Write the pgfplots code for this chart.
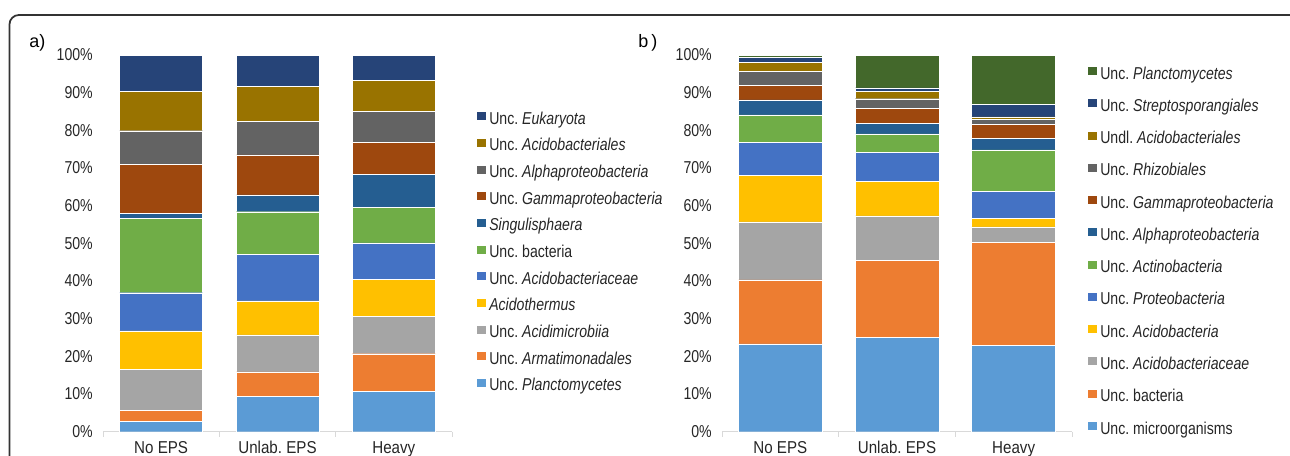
\documentclass[border=0pt]{standalone}
\usepackage{pgfplots}
\pgfplotsset{compat=1.18}
\usepackage{pgfplotstable}
\usepackage{fontspec}
\setmainfont{Liberation Sans}[FakeStretch=0.82]
\newfontfamily\panelfont{Liberation Sans}
\newfontfamily\catfont{Liberation Sans}[FakeStretch=0.88]
\frenchspacing

\definecolor{cBlueL}{HTML}{5B9BD5}
\definecolor{cOrange}{HTML}{ED7D31}
\definecolor{cGray}{HTML}{A5A5A5}
\definecolor{cGold}{HTML}{FFC000}
\definecolor{cBlue}{HTML}{4472C4}
\definecolor{cGreen}{HTML}{70AD47}
\definecolor{cBlueD}{HTML}{255E91}
\definecolor{cBrown}{HTML}{9E480E}
\definecolor{cGrayD}{HTML}{636363}
\definecolor{cOlive}{HTML}{997300}
\definecolor{cNavy}{HTML}{264478}
\definecolor{cGreenD}{HTML}{43682B}
\definecolor{axgray}{HTML}{D9D9D9}

% relative abundance (%) per treatment, bottom segment first
\pgfplotstableread{
x s1 s2 s3 s4 s5 s6 s7 s8 s9 s10 s11
0 2.8 2.9 10.8 10.3 10.1 19.7 1.4 12.9 9.0 10.5 9.6
1 9.3 6.6 9.8 9.0 12.4 11.3 4.5 10.6 8.9 9.3 8.3
2 10.7 10.0 10.0 9.7 9.7 9.4 8.9 8.5 8.1 8.3 6.7
}\taxaA

\pgfplotstableread{
x s1 s2 s3 s4 s5 s6 s7 s8 s9 s10 s11 s12
0 23.3 17.0 15.4 12.4 8.8 7.2 4.0 3.9 3.7 2.3 1.4 0.6
1 25.0 20.5 11.8 9.2 7.7 4.9 2.8 3.9 2.6 2.0 0.9 8.7
2 23.0 27.2 4.2 2.3 7.1 11.0 3.0 3.8 1.3 0.7 3.3 13.1
}\taxaB

\pgfplotsset{
  sq/.style={draw=white, line width=0.3pt,
    legend image code/.code={\fill[##1, draw=none] (0pt,0pt) rectangle (6.5pt,6pt);}},
  stackaxis/.style={
    scale only axis,
    height=282.5pt,
    ybar stacked,
    ymin=0, ymax=100, xmin=-0.5, xmax=2.5,
    axis x line*=bottom, axis y line*=left,
    x axis line style={draw=axgray, line width=0.75pt},
    y axis line style={draw=none},
    ytick={0,10,...,100},
    yticklabels={0\%,10\%,20\%,30\%,40\%,50\%,60\%,70\%,80\%,90\%,100\%},
    xtick={0,1,2},
    xticklabels={No EPS,Unlab. EPS,Heavy},
    minor xtick={-0.5,0.5,1.5,2.5},
    major tick length=0pt,
    minor tick length=3.75pt,
    tick align=outside,
    minor x tick style={draw=axgray, line width=0.75pt},
    major tick style={draw=none},
    tick label style={font=\fontsize{12.9}{14}\selectfont, text=black!85},
    yticklabel style={anchor=east, inner sep=0pt, xshift=-7.5pt},
    xticklabel style={anchor=north, inner sep=0pt, yshift=-6.75pt,
      font=\catfont\fontsize{12.9}{14}\selectfont, text height=9.2pt},
    reverse legend,
    legend cell align=left,
    legend style={draw=none, fill=none, inner sep=0pt, column sep=2.5pt,
      font=\fontsize{12.9}{14}\selectfont,
      nodes={inner sep=0pt, text height=9pt, text depth=3pt, text=black!85}},
    clip=false,
  },
}

\begin{document}
\begin{tikzpicture}
\useasboundingbox (0pt,0pt) rectangle (967.5pt,341.25pt);
\clip (0pt,0pt) rectangle (967.5pt,341.25pt);

% outer frame
\draw[line width=1.3pt, draw=black!80, rounded corners=7pt]
  (7.125pt,-22.5pt) -- (7.125pt,330pt) -- (975pt,330pt);

\node[anchor=base west, inner sep=0pt, font=\panelfont\fontsize{13.5}{15}\selectfont] at (21.75pt,306pt) {a)};
\node[anchor=base west, inner sep=0pt, font=\panelfont\fontsize{13.5}{15}\selectfont] at (478.5pt,306pt) {b\,)};

% panel a
\begin{axis}[stackaxis,
  at={(77.25pt,17.475pt)}, anchor=south west,
  width=261.75pt, bar width=62.25pt,
  legend style={at={(1.0716,0.849)}, anchor=north west, row sep=8pt},
]
\addplot[fill=cBlueL, sq] table[x=x, y=s1] {\taxaA};
\addplot[fill=cOrange, sq] table[x=x, y=s2] {\taxaA};
\addplot[fill=cGray, sq] table[x=x, y=s3] {\taxaA};
\addplot[fill=cGold, sq] table[x=x, y=s4] {\taxaA};
\addplot[fill=cBlue, sq] table[x=x, y=s5] {\taxaA};
\addplot[fill=cGreen, sq] table[x=x, y=s6] {\taxaA};
\addplot[fill=cBlueD, sq] table[x=x, y=s7] {\taxaA};
\addplot[fill=cBrown, sq] table[x=x, y=s8] {\taxaA};
\addplot[fill=cGrayD, sq] table[x=x, y=s9] {\taxaA};
\addplot[fill=cOlive, sq] table[x=x, y=s10] {\taxaA};
\addplot[fill=cNavy, sq] table[x=x, y=s11] {\taxaA};
\legend{Unc. \textit{Planctomycetes}, Unc. \textit{Armatimonadales}, Unc. \textit{Acidimicrobiia},
  \textit{Acidothermus}, Unc. \textit{Acidobacteriaceae}, Unc. bacteria, \textit{Singulisphaera},
  Unc. \textit{Gammaproteobacteria}, Unc. \textit{Alphaproteobacteria}, Unc. \textit{Acidobacteriales},
  Unc. \textit{Eukaryota}}
\end{axis}

% panel b
\begin{axis}[stackaxis,
  at={(541.5pt,17.475pt)}, anchor=south west,
  width=262.5pt, bar width=63pt,
  legend style={at={(1.0457,0.9687)}, anchor=north west, row sep=12.2pt},
]
\addplot[fill=cBlueL, sq] table[x=x, y=s1] {\taxaB};
\addplot[fill=cOrange, sq] table[x=x, y=s2] {\taxaB};
\addplot[fill=cGray, sq] table[x=x, y=s3] {\taxaB};
\addplot[fill=cGold, sq] table[x=x, y=s4] {\taxaB};
\addplot[fill=cBlue, sq] table[x=x, y=s5] {\taxaB};
\addplot[fill=cGreen, sq] table[x=x, y=s6] {\taxaB};
\addplot[fill=cBlueD, sq] table[x=x, y=s7] {\taxaB};
\addplot[fill=cBrown, sq] table[x=x, y=s8] {\taxaB};
\addplot[fill=cGrayD, sq] table[x=x, y=s9] {\taxaB};
\addplot[fill=cOlive, sq] table[x=x, y=s10] {\taxaB};
\addplot[fill=cNavy, sq] table[x=x, y=s11] {\taxaB};
\addplot[fill=cGreenD, sq] table[x=x, y=s12] {\taxaB};
\legend{Unc. microorganisms, Unc. bacteria, Unc. \textit{Acidobacteriaceae}, Unc. \textit{Acidobacteria},
  Unc. \textit{Proteobacteria}, Unc. \textit{Actinobacteria}, Unc. \textit{Alphaproteobacteria},
  Unc. \textit{Gammaproteobacteria}, Unc. \textit{Rhizobiales}, Undl. \textit{Acidobacteriales},
  Unc. \textit{Streptosporangiales}, Unc. \textit{Planctomycetes}}
\end{axis}
\end{tikzpicture}
\end{document}
